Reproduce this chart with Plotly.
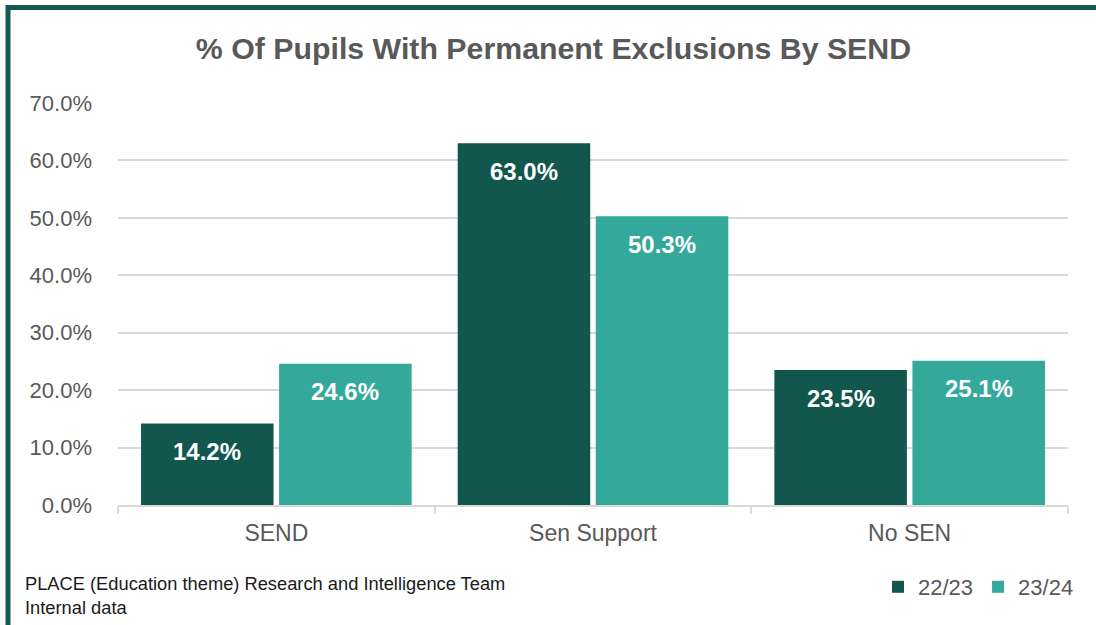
import plotly.graph_objects as go

# Share of pupils with permanent exclusions, by SEND status (percent)
categories = ["SEND", "Sen Support", "No SEN"]
years = ["22/23", "23/24"]
values_2223 = [14.2, 63.0, 23.5]
values_2324 = [24.6, 50.3, 25.1]
y_ticks = [0, 10, 20, 30, 40, 50, 60, 70]

series = [
    (years[0], values_2223, "#12574E"),
    (years[1], values_2324, "#34A89B"),
]

FONT = "Arial, Liberation Sans, sans-serif"
GREY = "#595959"
GRID = "#d9d9d9"

W, H = 1096, 625
M_L, M_R, M_T, M_B = 118, 28, 103, 120
plot_w = W - M_L - M_R
plot_h = H - M_T - M_B

fig = go.Figure()
for name, vals, colour in series:
    fig.add_trace(go.Bar(
        x=categories, y=vals, name=name,
        marker=dict(color=colour, line=dict(width=0)),
        hoverinfo="skip",
    ))

bargap, groupgap = 0.128, 0.04
cat_w = plot_w / len(categories)
slot_w = cat_w * (1 - bargap) / len(series)

# value labels just inside the top of each bar
annotations = []
for s_idx, (name, vals, colour) in enumerate(series):
    shift = (s_idx - (len(series) - 1) / 2) * slot_w
    for cat, v in zip(categories, vals):
        annotations.append(dict(
            x=cat, y=v, xref="x", yref="y",
            text=f"<b>{v:.1f}%</b>", showarrow=False,
            xshift=shift, yshift=-28, yanchor="middle",
            font=dict(family=FONT, size=24, color="white"),
        ))

def px_x(px):
    return (px - M_L) / plot_w

def px_y(py):
    return (H - M_B - py) / plot_h

annotations.append(dict(
    x=px_x(23), y=px_y(595), xref="paper", yref="paper",
    xanchor="left", yanchor="middle", align="left", showarrow=False,
    text="PLACE (Education theme) Research and Intelligence Team<br>Internal data",
    font=dict(family=FONT, size=18.3, color="#1a1a1a"),
))

# dark green frame round the chart area
shapes = [dict(
    type="rect", xref="paper", yref="paper",
    x0=px_x(8), x1=px_x(1102), y0=px_y(640), y1=px_y(7.5),
    line=dict(color="#145A50", width=5), fillcolor="rgba(0,0,0,0)",
    layer="above",
)]

fig.update_layout(
    width=W, height=H,
    margin=dict(l=M_L, r=M_R, t=M_T, b=M_B),
    paper_bgcolor="white", plot_bgcolor="white",
    barmode="group", bargap=bargap, bargroupgap=groupgap,
    title=dict(
        text="% Of Pupils With Permanent Exclusions By SEND",
        x=0.505, xanchor="center", xref="container",
        y=1 - 48 / H, yanchor="middle", yref="container",
        font=dict(family=FONT, size=30.3, color=GREY, weight="bold"),
    ),
    font=dict(family=FONT, color=GREY),
    legend=dict(
        orientation="h", xref="container", yref="container",
        x=878 / W, xanchor="left", y=1 - 587 / H, yanchor="middle",
        font=dict(family=FONT, size=22, color=GREY),
        itemwidth=30, bgcolor="rgba(0,0,0,0)",
    ),
    xaxis=dict(
        showgrid=False, showline=True, linecolor=GRID, linewidth=1.5,
        ticks="outside", tickson="boundaries", ticklen=7,
        tickcolor=GRID, tickwidth=1.5,
        tickfont=dict(family=FONT, size=23, color=GREY),
        ticklabelstandoff=7,
    ),
    yaxis=dict(
        range=[0, 70], tickvals=y_ticks,
        ticktext=[f"{t:.1f}%" for t in y_ticks],
        showgrid=True, gridcolor=GRID, gridwidth=1.5,
        zeroline=False, showline=False, ticks="",
        tickfont=dict(family=FONT, size=22, color=GREY),
        ticklabelstandoff=25,
    ),
    annotations=annotations,
    shapes=shapes,
    showlegend=True,
)

fig.write_html("out.html")
